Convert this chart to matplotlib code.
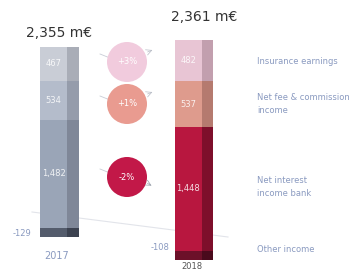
import matplotlib.pyplot as plt

years = ["2017", "2018"]
totals = ["2,355 m€", "2,361 m€"]
segments = ["Net interest\nincome bank", "Net fee & commission\nincome", "Insurance earnings"]
values_2017 = [1482, 534, 467]
values_2018 = [1448, 537, 482]
other_2017 = -129
other_2018 = -108
changes = ["-2%", "+1%", "+3%"]

front_2017 = ["#9aa5b7", "#b4bccb", "#c9cdd6"]
side_2017 = ["#7f8798", "#959cab", "#a9adb7"]
front_2018 = ["#b8173f", "#de9b8d", "#e8c5d4"]
side_2018 = ["#7e0f2b", "#b57a6f", "#c29fae"]
other_front = ["#545c6c", "#6c1029"]
other_side = ["#3c4250", "#4a0a1c"]
bubble_cols = ["#c21848", "#e99b90", "#f1cbdd"]

W, H = 363, 272
fig = plt.figure(figsize=(W / 100, H / 100), dpi=100)
fig.patch.set_facecolor("white")

# overlay in pixel coords for labels / bubbles
ov = fig.add_axes([0, 0, 1, 1])
ov.set_xlim(0, W)
ov.set_ylim(H, 0)
ov.axis("off")
ov.plot([32, 228], [212, 237], color="#e2e4ea", lw=0.8, zorder=0)


def draw_bar(rect, vals, other, front, side, ofront, oside):
    ax = fig.add_axes(rect)
    bottom = 0
    for v, fc, sc in zip(vals, front, side):
        ax.bar(-0.15, v, width=0.7, bottom=bottom, color=fc, lw=0)
        ax.bar(0.35, v, width=0.3, bottom=bottom, color=sc, lw=0)
        ax.text(-0.15, bottom + v / 2, f"{v:,}", ha="center", va="center",
                fontsize=6, color="white", alpha=0.85)
        bottom += v
    ax.bar(-0.15, other, width=0.7, color=ofront, lw=0)
    ax.bar(0.35, other, width=0.3, color=oside, lw=0)
    ax.set_xlim(-0.5, 0.5)
    ax.set_ylim(other, bottom)
    ax.axis("off")


draw_bar([40 / W, (H - 237) / H, 39 / W, 190 / H], values_2017, other_2017,
         front_2017, side_2017, other_front[0], other_side[0])
draw_bar([175 / W, (H - 260) / H, 38 / W, 220 / H], values_2018, other_2018,
         front_2018, side_2018, other_front[1], other_side[1])

# totals and years
ov.text(59, 33, totals[0], ha="center", va="center", fontsize=10, color="#333333")
ov.text(204, 17, totals[1], ha="center", va="center", fontsize=10, color="#333333")
ov.text(57, 256, years[0], ha="center", va="center", fontsize=7, color="#8a9ac0")
ov.text(192, 266.5, years[1], ha="center", va="center", fontsize=6, color="#555555")
ov.text(22, 234, f"{other_2017}", ha="center", va="center", fontsize=6, color="#8a9ac0")
ov.text(160, 248, f"{other_2018}", ha="center", va="center", fontsize=6, color="#8a9ac0")

# change bubbles
bub_y = [177, 104, 62]
for y, c, col in zip(bub_y, changes, bubble_cols):
    ov.plot([100, 110], [y - 8, y - 4], color="#c8ccd6", lw=0.6)
    if c.startswith("-"):
        ov.annotate("", xy=(154, y + 10), xytext=(145, y + 5),
                    arrowprops=dict(arrowstyle="->", color="#9aa0aa", lw=0.5))
    else:
        ov.annotate("", xy=(155, y - 13), xytext=(145, y - 9),
                    arrowprops=dict(arrowstyle="->", color="#b8bcc6", lw=0.5))
    ov.scatter([127], [y], s=830, color=col, edgecolors="none", zorder=3)
    ov.text(127, y, c, ha="center", va="center", fontsize=6, color="white", zorder=4)

# legend text
leg_y = [187, 104, 62]
for y, s in zip(leg_y, segments):
    ov.text(257, y, s, ha="left", va="center", fontsize=6, color="#8a9ac0", linespacing=1.5)
ov.text(257, 250, "Other income", ha="left", va="center", fontsize=6, color="#8a9ac0")

fig.savefig("out.png", dpi=100)
